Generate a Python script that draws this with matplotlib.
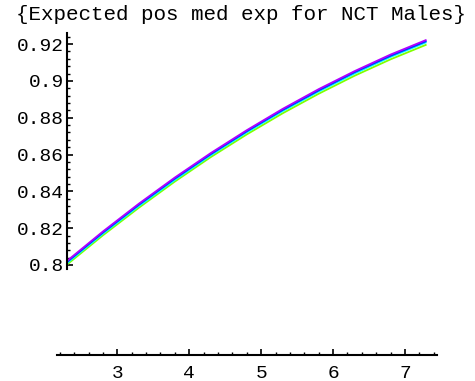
import matplotlib
matplotlib.use("Agg")
import matplotlib.pyplot as plt
from matplotlib.ticker import MultipleLocator, FixedLocator, FuncFormatter

# Data
x = [2.3, 2.8, 3.3, 3.8, 4.3, 4.8, 5.3, 5.8, 6.3, 6.8, 7.3]
y_magenta = [0.8022, 0.8182, 0.8333, 0.8475, 0.8608, 0.8732, 0.8848, 0.8955, 0.9053, 0.9143, 0.9223]
y_blue    = [0.8016, 0.8176, 0.8327, 0.8469, 0.8602, 0.8726, 0.8842, 0.8948, 0.9047, 0.9136, 0.9216]
y_cyan    = [0.8010, 0.8170, 0.8320, 0.8462, 0.8596, 0.8720, 0.8836, 0.8942, 0.9040, 0.9130, 0.9210]
y_green   = [0.8002, 0.8161, 0.8311, 0.8453, 0.8586, 0.8709, 0.8824, 0.8930, 0.9028, 0.9117, 0.9197]
series = [(y_green, '#80ff00'), (y_cyan, '#00ffff'), (y_blue, '#0033ff'), (y_magenta, '#b000ff')]
title = "{Expected pos med exp for NCT Males}"
yticks = [0.8, 0.82, 0.84, 0.86, 0.88, 0.9, 0.92]
xticks = [3, 4, 5, 6, 7]

W, H = 475, 381
fig = plt.figure(figsize=(W / 100, H / 100), dpi=100)
left, right, top, bottom = 56.9, 436.6, 33, 355
ax = fig.add_axes([left / W, (H - bottom) / H, (right - left) / W, (bottom - top) / H])

for ys, c in series:
    ax.plot(x, ys, color=c, lw=1.3, solid_capstyle='butt')

ax.set_xlim(2.16, 7.44)
ax.set_ylim(0.7511, 0.926)

for s in ['top', 'right']:
    ax.spines[s].set_visible(False)
ax.spines['left'].set_position(('data', 2.295))
ax.spines['left'].set_bounds(0.7978, 0.926)
ax.spines['left'].set_linewidth(1.5)
ax.spines['bottom'].set_linewidth(1.5)

ax.set_xticks(xticks)
ax.xaxis.set_minor_locator(MultipleLocator(0.2))
ax.set_yticks(yticks)
yminor = [round(0.8 + 0.004 * i, 4) for i in range(32)]
yminor = [v for v in yminor if all(abs(v - t) > 1e-6 for t in yticks)]
ax.yaxis.set_minor_locator(FixedLocator(yminor))
ax.yaxis.set_major_formatter(FuncFormatter(lambda v, p: ('%g' % round(v, 4))))

font = 'Liberation Mono'
ax.tick_params(axis='both', which='major', direction='in', length=4, width=1.2,
               labelsize=14)
ax.tick_params(axis='x', which='major', pad=7)
ax.tick_params(axis='y', which='major', pad=2)
ax.tick_params(axis='both', which='minor', direction='in', length=2.5, width=1.0)
for lab in ax.get_xticklabels() + ax.get_yticklabels():
    lab.set_fontfamily(font)

fig.text(241 / W, 1 - 15 / H, title, ha='center', va='center',
         fontsize=15.0, family=font)

fig.savefig('out.png', dpi=100)
